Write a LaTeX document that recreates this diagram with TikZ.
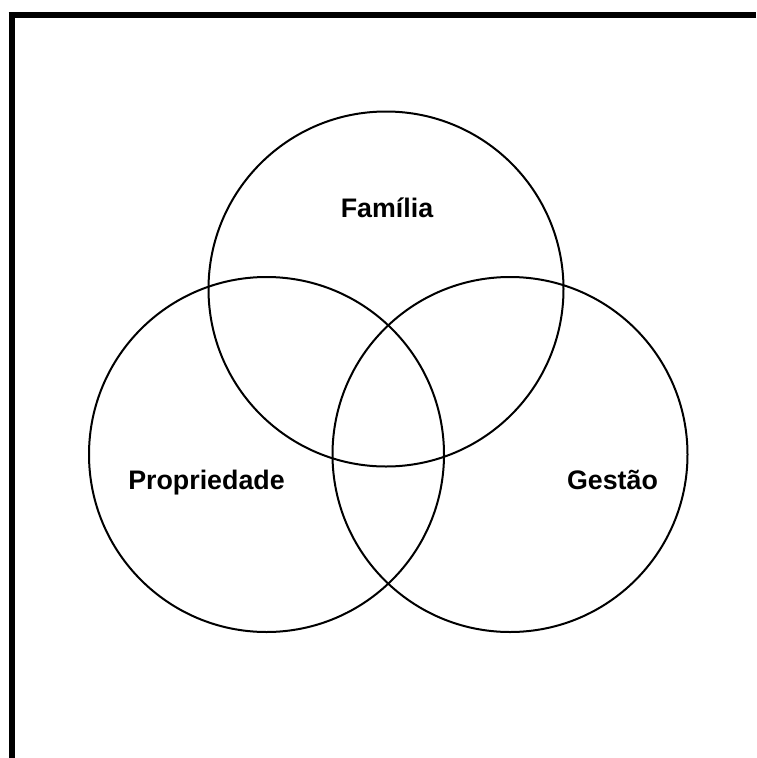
\documentclass[tikz,border=0pt]{standalone}
\usepackage{fontspec}
\setmainfont{Liberation Sans}
\begin{document}
\begin{tikzpicture}[x=1pt,y=-1pt,
  venn/.style={draw=black,line width=2pt,circle,minimum size=355pt,inner sep=0pt},
  lbl/.style={font=\bfseries\fontsize{26.8}{28}\selectfont,anchor=base,inner sep=0pt},
  frame/.style={line width=6pt,line cap=butt}]
\useasboundingbox (0,0) rectangle (756,758);
\coordinate (fa) at (8.5,15);
\coordinate (fb) at (756,15);
\coordinate (fc) at (11.5,12);
\coordinate (fd) at (11.5,758);
\draw[frame] (fa) -- (fb);
\draw[frame] (fc) -- (fd);
\node[venn] (familia) at (386,289) {};
\node[venn] (propriedade) at (266.5,454.5) {};
\node[venn] (gestao) at (510,454.5) {};
\node[lbl] (tf) at (387,217) {Família};
\node[lbl] (tp) at (206.5,489) {Propriedade};
\node[lbl] (tg) at (612.5,489) {Gestão};
\end{tikzpicture}
\end{document}
